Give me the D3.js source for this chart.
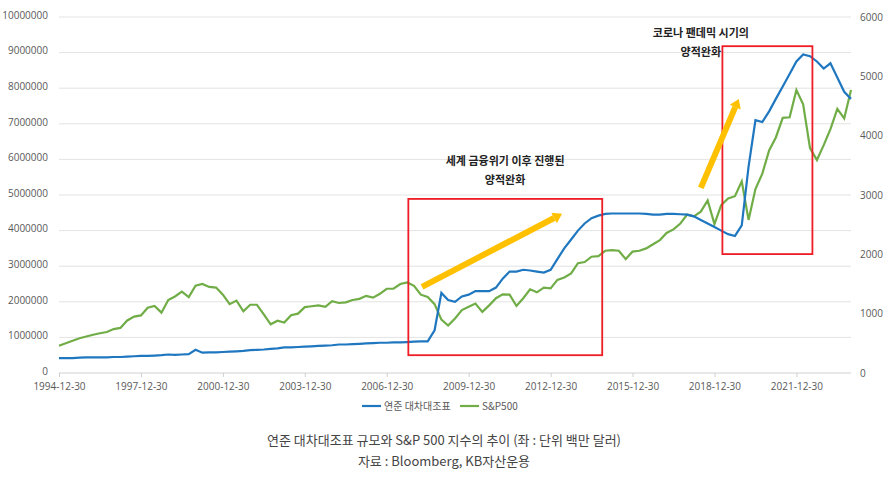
<!DOCTYPE html>
<html><head><meta charset="utf-8">
<script src="https://cdn.jsdelivr.net/npm/d3@7"></script>
<style>body{margin:0;background:#fff;font-family:"Noto Sans CJK KR","Noto Sans",sans-serif}</style>
</head><body><svg id="c" width="888" height="479"></svg>
<script>
const startDate = "1994-12-30";
const fedBalance = [0.42,
0.42,0.42,0.43,0.44, 0.44,0.44,0.44,0.45, 0.45,0.46,0.47,0.48, 0.48,0.49,0.5,0.52,
0.51,0.52,0.53,0.65, 0.57,0.58,0.58,0.59, 0.6,0.61,0.62,0.64, 0.65,0.66,0.68,0.69,
0.72,0.72,0.73,0.74, 0.75,0.76,0.77,0.78, 0.8,0.8,0.81,0.82, 0.83,0.84,0.85,0.85,
0.86,0.86,0.87,0.88, 0.89,0.89,1.2,2.25, 2.05,2.0,2.15,2.2, 2.3,2.3,2.3,2.4,
2.65,2.85,2.85,2.9, 2.88,2.85,2.82,2.9, 3.2,3.5,3.75,4.0, 4.2,4.35,4.42,4.47,
4.48,4.48,4.48,4.48, 4.48,4.47,4.45,4.45, 4.47,4.47,4.46,4.45, 4.4,4.3,4.2,4.1,
4.0,3.9,3.85,4.15, 5.8,7.1,7.05,7.35, 7.7,8.05,8.4,8.75, 8.95,8.9,8.75,8.55,
8.7,8.3,7.9,7.7].map(v=>v*1e6);
const sp500 = [460,
500,545,585,615, 645,670,690,740, 760,885,950,970, 1100,1130,1017,1230,
1290,1370,1280,1470, 1500,1450,1440,1320, 1160,1220,1040,1150, 1150,990,820,880,
850,975,1000,1110, 1125,1140,1115,1210, 1180,1190,1230,1250, 1300,1270,1335,1420,
1420,1500,1525,1470, 1320,1280,1160,900, 800,920,1060,1115, 1170,1030,1140,1260,
1325,1320,1130,1260, 1410,1360,1440,1425, 1570,1610,1680,1850, 1870,1960,1970,2060,
2070,2060,1920,2045, 2060,2100,2170,2240, 2360,2420,2520,2670, 2640,2720,2910,2510,
2830,2940,2980,3230, 2580,3100,3360,3750, 3970,4300,4310,4770, 4530,3790,3590,3840,
4110,4450,4290,4770];
const xTickLabels = ["1994-12-30","1997-12-30","2000-12-30","2003-12-30","2006-12-30","2009-12-30","2012-12-30","2015-12-30","2018-12-30","2021-12-30"];
const leftTicks = [0,1e6,2e6,3e6,4e6,5e6,6e6,7e6,8e6,9e6,1e7];
const rightTicks = [0,1000,2000,3000,4000,5000,6000];
const seriesNames = ["연준 대차대조표","S&P500"];
const boxes = [{x0:"2007-10-15",x1:"2014-11-20",y0:4.89e6,y1:0.5e6},{x0:"2019-04-15",x1:"2022-08-01",y0:9.18e6,y1:3.34e6}];
const arrows = [{x0:"2008-04-15",y0:2.42e6,x1:"2013-06-01",y1:4.47e6},{x0:"2018-07-01",y0:5.2e6,x1:"2019-11-20",y1:7.7e6}];
const notes = [{x:"2011-05-01",y:5.85e6,lines:["세계 금융위기 이후 진행된","양적완화"]},{x:"2018-07-01",y:9.45e6,lines:["코로나 팬데믹 시기의","양적완화"]}];
const captions = ["연준 대차대조표 규모와 S&P 500 지수의 추이 (좌 : 단위 백만 달러)","자료 : Bloomberg, KB자산운용"];

const parse = d3.timeParse("%Y-%m-%d");
const t0 = parse(startDate);
const dates = fedBalance.map((_,i)=>d3.timeMonth.offset(t0, 3*i));
const svg = d3.select("#c");
const L=59,R=851,T=17,B=373;
const x = d3.scaleTime().domain([t0, parse("2023-12-30")]).range([L,R]);
const yL = d3.scaleLinear().domain([0,1e7]).range([B,T]);
const yR = d3.scaleLinear().domain([0,6000]).range([B,T]);

svg.append("g").selectAll("line").data(leftTicks.slice(1)).join("line")
 .attr("x1",L).attr("x2",R).attr("y1",d=>yL(d)).attr("y2",d=>yL(d)).attr("stroke","#e3e3e3");
svg.append("line").attr("x1",L).attr("x2",R).attr("y1",B).attr("y2",B).attr("stroke","#d0d0d0");
const gl = svg.append("g").attr("transform",`translate(${L-8},-2)`).call(d3.axisLeft(yL).tickValues(leftTicks).tickFormat(d3.format("d")).tickSize(0));
const gr = svg.append("g").attr("transform",`translate(${R+6},0)`).call(d3.axisRight(yR).tickValues(rightTicks).tickFormat(d3.format("d")).tickSize(0));
const gx = svg.append("g").attr("transform",`translate(0,${B+7})`).call(d3.axisBottom(x).tickValues(xTickLabels.map(parse)).tickFormat(d3.timeFormat("%Y-%m-%d")).tickSize(0));
[gl,gr,gx].forEach(g=>{g.select(".domain").remove();g.selectAll("text").attr("font-size",10).attr("fill","#595959").attr("font-family","'Open Sans',sans-serif");});
gx.selectAll(".tick").append("line").attr("y1",-7).attr("y2",-3).attr("stroke","#d0d0d0");

svg.append("path").datum(sp500).attr("fill","none").attr("stroke","#70ad47").attr("stroke-width",2.2)
 .attr("d",d3.line().x((d,i)=>x(dates[i])).y(d=>yR(d)));
svg.append("path").datum(fedBalance).attr("fill","none").attr("stroke","#1f77c0").attr("stroke-width",2.2)
 .attr("d",d3.line().x((d,i)=>x(dates[i])).y(d=>yL(d)));

boxes.forEach(b=>svg.append("rect").attr("x",x(parse(b.x0))).attr("y",yL(b.y0))
 .attr("width",x(parse(b.x1))-x(parse(b.x0))).attr("height",yL(b.y1)-yL(b.y0))
 .attr("fill","none").attr("stroke","#ee1c25").attr("stroke-width",1.8));
arrows.forEach(a=>{
 const x0=x(parse(a.x0)),y0=yL(a.y0),x1=x(parse(a.x1)),y1=yL(a.y1);
 const ang=Math.atan2(y1-y0,x1-x0), hl=9, hw=6;
 const bx=x1-hl*Math.cos(ang), by=y1-hl*Math.sin(ang);
 svg.append("line").attr("x1",x0).attr("y1",y0).attr("x2",bx).attr("y2",by).attr("stroke","#ffc000").attr("stroke-width",6);
 svg.append("path").attr("fill","#ffc000").attr("d",`M${x1},${y1}L${bx-hw*Math.sin(ang)},${by+hw*Math.cos(ang)}L${bx+hw*Math.sin(ang)},${by-hw*Math.cos(ang)}Z`);
});
notes.forEach(n=>{n.lines.forEach((l,i)=>svg.append("text").attr("x",x(parse(n.x))).attr("y",yL(n.y)+i*19)
 .attr("text-anchor","middle").attr("font-size",11).attr("font-weight","bold").attr("fill","#222").text(l));});

const lg = svg.append("g").attr("transform","translate(362,406)");
[["#1f77c0",0],["#70ad47",98]].forEach(([c,dx],i)=>{
 lg.append("line").attr("x1",dx).attr("x2",dx+19).attr("y1",0).attr("y2",0).attr("stroke",c).attr("stroke-width",2.2);
 lg.append("text").attr("x",dx+22).attr("y",4).attr("font-size",10).attr("fill","#595959").text(seriesNames[i]);
});
captions.forEach((c,i)=>svg.append("text").attr("x",444).attr("y",445+i*21).attr("text-anchor","middle")
 .attr("font-size",13).attr("fill","#444").text(c));
</script></body></html>
